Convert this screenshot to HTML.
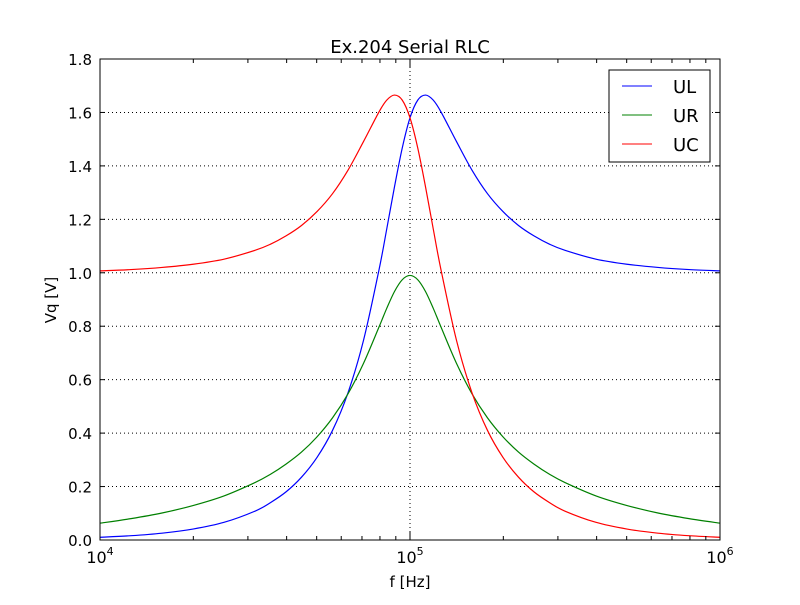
<!DOCTYPE html>
<html><head><meta charset="utf-8"><style>
body{margin:0;background:#fff}
svg text{font-family:"DejaVu Sans","Liberation Sans",sans-serif}
</style></head><body>
<svg id="chart" width="800" height="600" viewBox="0 0 800 600" xmlns="http://www.w3.org/2000/svg">
<rect width="800" height="600" fill="#fff"/>
<text x="410" y="53" font-size="18" text-anchor="middle">Ex.204 Serial RLC</text>
<text x="410" y="587" font-size="15" text-anchor="middle">f [Hz]</text>
<text transform="translate(56,300) rotate(-90)" font-size="15" text-anchor="middle">Vq [V]</text>
<g id="grid"></g><g id="series"></g><g id="ticks"></g>
<rect x="100" y="59" width="620" height="481" fill="none" stroke="#000" stroke-width="1"/>
<g>
<rect x="609" y="70" width="101" height="92" fill="#fff" stroke="#000"/>
<line x1="622" y1="86" x2="652" y2="86" stroke="#0000ff"/><text x="673" y="93" font-size="18">UL</text>
<line x1="622" y1="115" x2="652" y2="115" stroke="#008000"/><text x="673" y="122" font-size="18">UR</text>
<line x1="622" y1="144" x2="652" y2="144" stroke="#ff0000"/><text x="673" y="151" font-size="18">UC</text>
</g>
</svg>
<script>
const logF=[4,4.1,4.2,4.3,4.4,4.5,4.55,4.6,4.65,4.7,4.75,4.8,4.85,4.9,4.925,4.95,4.975,5,5.025,5.05,5.075,5.1,5.15,5.2,5.25,5.3,5.35,5.4,5.45,5.5,5.6,5.7,5.8,5.9,6];
const UR=[.063,.080,.101,.129,.165,.215,.246,.284,.329,.386,.457,.547,.661,.797,.867,.930,.974,.99,.974,.930,.867,.797,.661,.547,.457,.386,.329,.284,.246,.215,.165,.129,.101,.080,.063];
const UL=[.0101,.0161,.0256,.041,.066,.108,.140,.180,.235,.309,.410,.551,.747,1.011,1.164,1.322,1.467,1.58,1.646,1.665,1.646,1.602,1.491,1.384,1.296,1.229,1.177,1.138,1.107,1.084,1.051,1.032,1.020,1.012,1.007];
const UC=[1.007,1.012,1.020,1.032,1.051,1.084,1.107,1.138,1.177,1.229,1.296,1.384,1.491,1.602,1.646,1.665,1.646,1.58,1.467,1.322,1.164,1.011,.747,.551,.410,.309,.235,.180,.140,.108,.066,.041,.0256,.0161,.0101];
const yTicks=[0,0.2,0.4,0.6,0.8,1.0,1.2,1.4,1.6,1.8];
const xTicks=[4,5,6];
const X0=100,X1=720,Y0=540,Y1=59;
const sx=e=>X0+(e-4)/2*(X1-X0);
const sy=v=>Y0-v/1.8*(Y0-Y1);
const NS='http://www.w3.org/2000/svg';
function mk(t,a,p){const el=document.createElementNS(NS,t);for(const k in a)el.setAttribute(k,a[k]);p.appendChild(el);return el;}
const grid=document.getElementById('grid'),ticks=document.getElementById('ticks'),ser=document.getElementById('series');
yTicks.forEach(v=>{const y=sy(v);
 if(v>0&&v<1.8){const g=mk('line',{x1:X0,x2:X1,y1:y,y2:y,stroke:'#000','stroke-dasharray':'1,3'},grid);
 
 }
 mk('line',{x1:X0,x2:X0+5,y1:y,y2:y,stroke:'#000'},ticks);
 mk('line',{x1:X1,x2:X1-5,y1:y,y2:y,stroke:'#000'},ticks);
 const t=mk('text',{x:X0-8,y:y+6,'font-size':15,'text-anchor':'end'},ticks);t.textContent=v.toFixed(1);
 
 
});
xTicks.forEach(e=>{const x=sx(e);
 if(e>4&&e<6){const g=mk('line',{x1:x,x2:x,y1:Y1,y2:Y0,stroke:'#000','stroke-dasharray':'1,3'},grid);
 
 }
 mk('line',{x1:x,x2:x,y1:Y0,y2:Y0-8,stroke:'#000'},ticks);
 mk('line',{x1:x,x2:x,y1:Y1,y2:Y1+8,stroke:'#000'},ticks);
 for(let k=2;k<10&&e<6;k++){const xm=sx(e+Math.log10(k));
  mk('line',{x1:xm,x2:xm,y1:Y0,y2:Y0-4,stroke:'#000'},ticks);
  mk('line',{x1:xm,x2:xm,y1:Y1,y2:Y1+4,stroke:'#000'},ticks);}
 const t=mk('text',{x:x,y:Y0+23,'font-size':16,'text-anchor':'middle'},ticks);
 t.innerHTML='10<tspan dy="-8" font-size="11">'+e+'</tspan>';
 
 
});
function smooth(pts){let d='M'+pts[0][0].toFixed(2)+','+pts[0][1].toFixed(2);
 for(let i=0;i<pts.length-1;i++){const p0=pts[Math.max(0,i-1)],p1=pts[i],p2=pts[i+1],p3=pts[Math.min(pts.length-1,i+2)];
  const c1=[p1[0]+(p2[0]-p0[0])/6,p1[1]+(p2[1]-p0[1])/6],c2=[p2[0]-(p3[0]-p1[0])/6,p2[1]-(p3[1]-p1[1])/6];
  d+='C'+c1.map(v=>v.toFixed(2)).join(',')+' '+c2.map(v=>v.toFixed(2)).join(',')+' '+p2.map(v=>v.toFixed(2)).join(',');}
 return d;}
[[UL,'#0000ff','series-ul'],[UR,'#008000','series-ur'],[UC,'#ff0000','series-uc']].forEach(([arr,c,n])=>{
 const pts=arr.map((v,i)=>[sx(logF[i]),sy(v)]);
 const p=mk('path',{d:smooth(pts),fill:'none',stroke:c,'stroke-width':1.2,'stroke-linejoin':'round'},ser);
 
 
});
</script>
</body></html>
